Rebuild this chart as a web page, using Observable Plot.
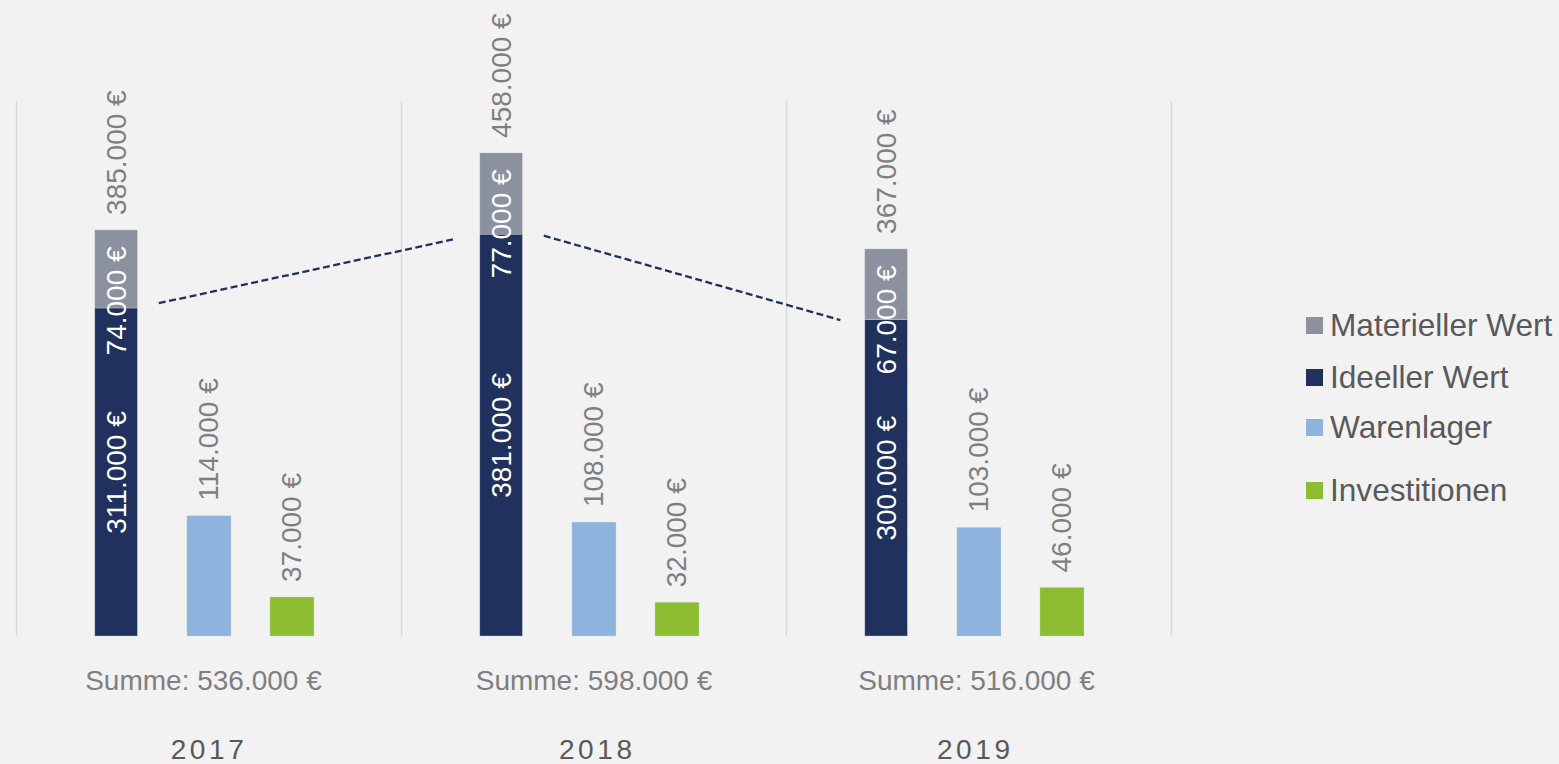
<!DOCTYPE html>
<html>
<head>
<meta charset="utf-8">
<script src="https://cdn.jsdelivr.net/npm/d3@7"></script>
<script src="https://cdn.jsdelivr.net/npm/@observablehq/plot@0.6"></script>
<style>
  html, body { margin: 0; padding: 0; background: #f2f2f2; }
  #wrap { position: relative; width: 1559px; height: 764px; overflow: hidden; background: #f2f2f2; }
  #legend { position: absolute; left: 1306px; top: 0; font-family: "Liberation Sans", Arial, sans-serif; font-size: 31.6px; line-height: 32px; color: #595959; }
  .row { position: absolute; left: 0; white-space: nowrap; height: 32px; }
  .sw { position: absolute; left: 0; top: 8px; width: 17px; height: 17px; }
  .lbl { position: absolute; left: 24px; top: 0; }
</style>
</head>
<body>
<div id="wrap"><div id="legend"></div></div>
<script>
// ---- data ----
const years = ["2017", "2018", "2019"];
const ideellerWert = [311000, 381000, 300000];
const materiellerWert = [74000, 77000, 67000];
const warenlager = [114000, 108000, 103000];
const investitionen = [37000, 32000, 46000];
// dashed trend connectors between the years (start / end values)
const trendStart = [316000, 380000];
const trendEnd = [377000, 300000];

const seriesNames = ["Materieller Wert", "Ideeller Wert", "Warenlager", "Investitionen"];
const seriesColors = ["#8c919f", "#1f315c", "#8eb4dd", "#8cbd31"];

// ---- layout constants (fractions of a year group) ----
const STACK = [0.2047, 0.3153], WAREN = [0.444, 0.5584], INVEST = [0.6597, 0.774];
const SUM_SHIFT = [-0.0143, 0, -0.0065];   // small horizontal nudges of the bottom labels
const YEAR_SHIFT = [0, 0.0085, -0.0097];
const mid = r => (r[0] + r[1]) / 2;

const fmt = v => d3.format(",")(v).replace(/,/g, ".") + " €";

const bars = [];
years.forEach((yr, i) => {
  const total = ideellerWert[i] + materiellerWert[i];
  bars.push({series: "Ideeller Wert", x1: i + STACK[0], x2: i + STACK[1], y1: 0, y2: ideellerWert[i]});
  bars.push({series: "Materieller Wert", x1: i + STACK[0], x2: i + STACK[1], y1: ideellerWert[i], y2: total});
  bars.push({series: "Warenlager", x1: i + WAREN[0], x2: i + WAREN[1], y1: 0, y2: warenlager[i]});
  bars.push({series: "Investitionen", x1: i + INVEST[0], x2: i + INVEST[1], y1: 0, y2: investitionen[i]});
});

const insideMid = years.map((yr, i) => ({x: i + mid(STACK), y: ideellerWert[i] / 2, t: fmt(ideellerWert[i])}));
const insideTop = years.map((yr, i) => ({x: i + mid(STACK), y: ideellerWert[i] + materiellerWert[i], t: fmt(materiellerWert[i])}));
const above = years.flatMap((yr, i) => [
  {x: i + mid(STACK), y: ideellerWert[i] + materiellerWert[i], t: fmt(ideellerWert[i] + materiellerWert[i])},
  {x: i + mid(WAREN), y: warenlager[i], t: fmt(warenlager[i])},
  {x: i + mid(INVEST), y: investitionen[i], t: fmt(investitionen[i])}
]);
const sums = years.map((yr, i) => ({x: i + 0.5 + SUM_SHIFT[i], t: "Summe: " + fmt(ideellerWert[i] + materiellerWert[i] + warenlager[i] + investitionen[i])}));
const yearLabels = years.map((yr, i) => ({x: i + 0.5 + YEAR_SHIFT[i], t: yr}));
const trends = trendStart.map((v, i) => ({x1: i + 0.3696, y1: v, x2: i + 1.14, y2: trendEnd[i]}));

const font = "'Liberation Sans', Arial, sans-serif";

const chart = Plot.plot({
  width: 1559,
  height: 764,
  marginLeft: 16,
  marginRight: 388,
  marginTop: 0,
  marginBottom: 128,
  x: {domain: [0, 3], axis: null},
  y: {domain: [0, 603000], axis: null},
  color: {domain: seriesNames, range: seriesColors},
  style: {background: "#f2f2f2", fontFamily: font},
  marks: [
    Plot.ruleX([0, 1, 2, 3], {y1: 0, y2: 507000, stroke: "#d9d9d9", strokeWidth: 1.5}),
    Plot.rect(bars, {x1: "x1", x2: "x2", y1: "y1", y2: "y2", fill: "series", stroke: "#d0d3da", strokeWidth: 0.6, strokeOpacity: 0.6}),
    Plot.link(trends, {x1: "x1", y1: "y1", x2: "x2", y2: "y2", stroke: "#1f315c", strokeWidth: 2.3, strokeDasharray: "7,3.5"}),
    Plot.text(insideMid, {x: "x", y: "y", text: "t", rotate: -90, fill: "white", fontSize: 28, textAnchor: "middle", lineAnchor: "middle"}),
    Plot.text(insideTop, {x: "x", y: "y", text: "t", rotate: -90, fill: "white", fontSize: 28, textAnchor: "end", lineAnchor: "middle", dy: 16}),
    Plot.text(above, {x: "x", y: "y", text: "t", rotate: -90, fill: "#7f7f7f", fontSize: 28, textAnchor: "start", lineAnchor: "middle", dy: -15.5}),
    Plot.text(sums, {x: "x", frameAnchor: "bottom", text: "t", fill: "#7f7f7f", fontSize: 28, lineAnchor: "middle", dy: 45}),
    Plot.text(yearLabels, {x: "x", frameAnchor: "bottom", text: "t", fill: "#595959", fontSize: 28, lineAnchor: "middle", dy: 114})
  ]
});

// letter-spaced year labels
d3.select(chart).selectAll("text")
  .filter(function () { return years.includes(this.textContent); })
  .style("letter-spacing", "3.6px");

const wrap = document.getElementById("wrap");
wrap.insertBefore(chart, wrap.firstChild);

// legend (HTML)
const legendTops = [309, 361, 411, 474];
const legend = document.getElementById("legend");
seriesNames.forEach((name, k) => {
  const row = document.createElement("div");
  row.className = "row";
  row.style.top = legendTops[k] + "px";
  const sw = document.createElement("div");
  sw.className = "sw";
  sw.style.background = seriesColors[k];
  const lb = document.createElement("div");
  lb.className = "lbl";
  lb.textContent = name;
  row.appendChild(sw);
  row.appendChild(lb);
  legend.appendChild(row);
});
</script>
</body>
</html>
